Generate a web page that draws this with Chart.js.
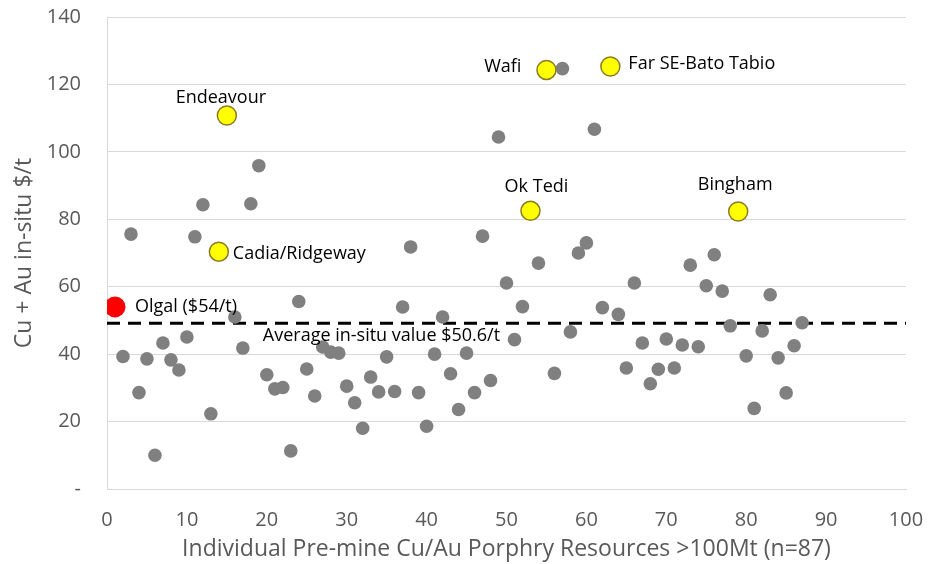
<!DOCTYPE html>
<html>
<head>
<meta charset="utf-8">
<script src="https://cdn.jsdelivr.net/npm/chart.js@4.4.1/dist/chart.umd.min.js"></script>
<style>
  html, body { margin: 0; padding: 0; background: #ffffff; }
  #wrap { width: 931px; height: 564px; position: relative; }
</style>
</head>
<body>
<div id="wrap"><canvas id="c"></canvas></div>
<script>
// ---- data ----
// resource rank (x) 1..87 and in-situ value (y); null = shown in a highlighted series
const resourceRank = [1,2,3,4,5,6,7,8,9,10,11,12,13,14,15,16,17,18,19,20,21,22,23,24,25,26,27,28,29,30,
  31,32,33,34,35,36,37,38,39,40,41,42,43,44,45,46,47,48,49,50,51,52,53,54,55,56,57,58,59,60,
  61,62,63,64,65,66,67,68,69,70,71,72,73,74,75,76,77,78,79,80,81,82,83,84,85,86,87];
const otherValues = [null,39.3,75.6,28.6,38.6,10.0,43.3,38.3,35.3,45.1,74.8,84.3,22.3,null,null,51.0,41.8,84.6,95.9,33.9,
  29.7,30.1,11.3,55.6,35.6,27.6,42.1,40.6,40.3,30.5,25.6,18.0,33.2,28.8,39.2,28.9,54.0,71.8,28.6,18.6,
  40.0,51.0,34.2,23.6,40.3,28.6,75.0,32.2,104.4,61.1,44.3,54.1,null,67.0,null,34.3,124.7,46.6,70.0,73.0,
  106.7,53.8,null,51.8,35.9,61.1,43.3,31.2,35.5,44.5,35.9,42.7,66.4,42.2,60.3,69.5,58.7,48.4,null,39.5,
  23.9,46.9,57.6,38.9,28.5,42.5,49.3];

const highlightNames = ["Cadia/Ridgeway","Endeavour","Ok Tedi","Wafi","Far SE-Bato Tabio","Bingham"];
const highlightRank  = [14, 15, 53, 55, 63, 79];
const highlightValue = [70.4, 110.8, 82.5, 124.3, 125.3, 82.3];

const olgalName  = "Olgal ($54/t)";
const olgalRank  = [1];
const olgalValue = [54];

const averageLabel = "Average in-situ value $50.6/t";
const averageValue = 49.2;
const xRange = [0, 100];

const yTickLabels = {0: "-"};
const xTitle = "Individual Pre-mine Cu/Au Porphry Resources >100Mt (n=87)";
const yTitle = "Cu + Au in-situ $/t";

// ---- label placement (layout only) ----
const labelPlacement = {
  "Cadia/Ridgeway":    {align: "left",   dx: 14,  dy: 2},
  "Endeavour":         {align: "center", dx: -6,  dy: -18},
  "Ok Tedi":           {align: "center", dx: 6,   dy: -24},
  "Wafi":              {align: "right",  dx: -25, dy: -3},
  "Far SE-Bato Tabio": {align: "left",   dx: 18,  dy: -3},
  "Bingham":           {align: "center", dx: -3,  dy: -27}
};

const labelFont = "18px 'Open Sans', sans-serif";

const labelPlugin = {
  id: "pointLabels",
  afterDatasetsDraw(chart) {
    const ctx = chart.ctx;
    const xs = chart.scales.x, ys = chart.scales.y;
    ctx.save();
    ctx.font = labelFont;
    ctx.fillStyle = "#000000";
    ctx.textBaseline = "middle";
    highlightNames.forEach((name, i) => {
      const p = labelPlacement[name];
      ctx.textAlign = p.align;
      ctx.fillText(name, xs.getPixelForValue(highlightRank[i]) + p.dx, ys.getPixelForValue(highlightValue[i]) + p.dy);
    });
    ctx.textAlign = "left";
    ctx.fillText(olgalName, xs.getPixelForValue(olgalRank[0]) + 20, ys.getPixelForValue(olgalValue[0]));
    ctx.fillText(averageLabel, xs.getPixelForValue(19.5), ys.getPixelForValue(averageValue) + 13);
    ctx.restore();
  }
};

const otherPoints = resourceRank.map((r, i) => ({x: r, y: otherValues[i]})).filter(p => p.y !== null);
const highlightPoints = highlightRank.map((r, i) => ({x: r, y: highlightValue[i]}));
const olgalPoints = olgalRank.map((r, i) => ({x: r, y: olgalValue[i]}));
const averagePoints = xRange.map(x => ({x: x, y: averageValue}));

const fontFamily = "'Open Sans', sans-serif";

new Chart(document.getElementById("c"), {
  type: "scatter",
  data: {
    datasets: [
      {label: "Olgal", data: olgalPoints, backgroundColor: "#ff0000", borderWidth: 0, pointRadius: 10.5, pointHoverRadius: 10.5},
      {label: "Highlighted", data: highlightPoints, backgroundColor: "#ffff00", borderColor: "#8c7b22", borderWidth: 1.5, pointRadius: 9.5, pointHoverRadius: 9.5},
      {label: "Other", data: otherPoints, backgroundColor: "#808080", borderWidth: 0, pointRadius: 6.8, pointHoverRadius: 6.8},
      {type: "line", label: "Average", data: averagePoints, borderColor: "#000000", borderWidth: 3, borderDash: [13, 8], pointRadius: 0, fill: false, showLine: true}
    ]
  },
  options: {
    responsive: true,
    maintainAspectRatio: false,
    animation: false,
    events: [],
    layout: {padding: {top: 17, right: 25, bottom: 0, left: 0}},
    plugins: {legend: {display: false}, tooltip: {enabled: false}},
    scales: {
      x: {
        type: "linear", min: 0, max: 100,
        ticks: {stepSize: 10, color: "#595959", padding: 19, font: {family: fontFamily, size: 20}},
        grid: {display: false, drawTicks: false},
        border: {display: true, color: "#d9d9d9", width: 1},
        title: {display: true, text: xTitle, color: "#595959", font: {family: fontFamily, size: 23}, padding: {top: 0, bottom: 1}},
        afterFit(scale) { scale.height = 75; scale.paddingLeft = 0; scale.paddingRight = 0; }
      },
      y: {
        type: "linear", min: 0, max: 140,
        ticks: {stepSize: 20, color: "#595959", padding: 26, font: {family: fontFamily, size: 20},
          callback: (v) => (yTickLabels[v] !== undefined ? yTickLabels[v] : v)},
        grid: {color: "#d9d9d9", lineWidth: 1, drawTicks: false},
        border: {display: true, color: "#d9d9d9", width: 1},
        title: {display: true, text: yTitle, color: "#595959", font: {family: fontFamily, size: 23}, padding: {top: 11, bottom: 0}},
        afterFit(scale) { scale.width = 107; scale.paddingTop = 0; scale.paddingBottom = 0; }
      }
    }
  },
  plugins: [labelPlugin]
});
</script>
</body>
</html>
